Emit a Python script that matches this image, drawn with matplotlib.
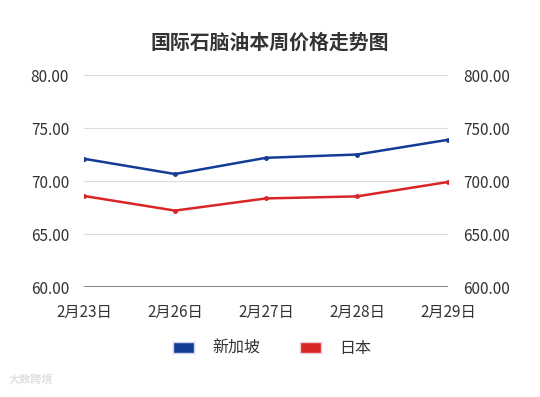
import matplotlib.pyplot as plt
from matplotlib.patches import Patch

plt.rcParams['font.family'] = ['Noto Sans CJK SC', 'DejaVu Sans']

dates = ["2月23日", "2月26日", "2月27日", "2月28日", "2月29日"]
singapore = [72.10, 70.66, 72.19, 72.50, 73.89]
japan = [685.9, 672.1, 683.6, 685.5, 699.1]

blue = "#123c96"
red = "#d92526"

fig = plt.figure(figsize=(5.4, 3.97), dpi=100)
ax = fig.add_axes([0.1556, 0.277, 0.674, 0.534])
ax2 = ax.twinx()

x = range(len(dates))
ax.plot(x, singapore, color=blue, lw=1.8, marker='o', ms=2.5, zorder=3)
ax2.plot(x, japan, color=red, lw=1.8, marker='o', ms=2.5, zorder=3)

ax.set_ylim(60, 80)
ax.set_yticks([60, 65, 70, 75, 80])
ax.set_yticklabels([f"{v:.2f}" for v in [60, 65, 70, 75, 80]])
ax2.set_ylim(600, 800)
ax2.set_yticks([600, 650, 700, 750, 800])
ax2.set_yticklabels([f"{v:.2f}" for v in [600, 650, 700, 750, 800]])
ax.set_xlim(0, len(dates) - 1)
ax.set_xticks(list(x))
ax.set_xticklabels(dates)

ax.grid(axis='y', color='#dcdcdc', lw=0.8)
ax.set_axisbelow(True)
for a in (ax, ax2):
    for s in ['top', 'left', 'right', 'bottom']:
        a.spines[s].set_visible(False)
    a.tick_params(length=0, labelsize=11, colors='#333333')
ax.axhline(60, color='#777777', lw=1.3, zorder=2)
ax.tick_params(axis='y', pad=10.8)
ax2.tick_params(axis='y', pad=10.8)
ax.tick_params(axis='x', pad=12)

fig.text(0.5, 0.894, "国际石脑油本周价格走势图", ha='center', va='center',
         fontsize=14.3, fontweight='bold', color='#333333')

handles = [Patch(facecolor=blue, edgecolor='#c8d4ea', lw=1),
           Patch(facecolor=red, edgecolor='#f0c8c8', lw=1)]
fig.legend(handles, ["新加坡", "日本"], loc='center', bbox_to_anchor=(0.504, 0.122),
           ncol=2, frameon=False, fontsize=11.5, handlelength=1.31, handleheight=0.69,
           handletextpad=1.19, columnspacing=2.45, labelcolor='#333333')

fig.text(0.015, 0.035, "大数跨境", fontsize=8, color='#e0e0e0', fontweight='bold')

fig.savefig("out.png", dpi=100)
